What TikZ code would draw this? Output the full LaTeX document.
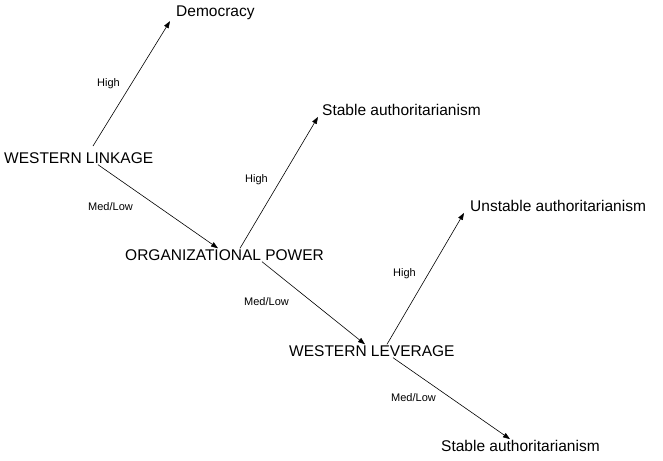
\documentclass[tikz,border=0pt]{standalone}
\usepackage{fontspec}
\setmainfont{Liberation Sans}
\usetikzlibrary{arrows.meta,positioning}
\begin{document}
\begin{tikzpicture}[x=1pt,y=-1pt,
  lvl/.style={font=\fontsize{15.5}{17}\selectfont, inner sep=1pt, anchor=west},
  lab/.style={font=\fontsize{11}{12}\selectfont, inner sep=0pt, anchor=west},
  arr/.style={-{Triangle[length=7pt,width=5pt]}, line width=0.6pt}]
\useasboundingbox (0,0) rectangle (663,460);
% Nodes
\node[lvl] (demo) at (175,13) {Democracy};
\node[lvl] (link) at (3,158) {WESTERN LINKAGE};
\node[lvl] (sa1)  at (321,110) {Stable authoritarianism};
\node[lvl] (org)  at (124,255) {ORGANIZATIONAL POWER};
\node[lvl] (ua)   at (469,206) {Unstable authoritarianism};
\node[lvl] (lev)  at (288,351) {WESTERN LEVERAGE};
\node[lvl] (sa2)  at (440,446) {Stable authoritarianism};
% Arrows
\draw[arr] (93,146) -- (demo.south west -| 170,0);
\draw[arr] (link.south -| 98,0) -- (org.north -| 218,0);
\draw[arr] (org.north -| 240,0) -- (sa1.south west -| 318,0);
\draw[arr] (org.south -| 262,0) -- (lev.north -| 365,0);
\draw[arr] (lev.north -| 387,0) -- (ua.south west -| 464,0);
\draw[arr] (lev.south -| 393,0) -- (sa2.north -| 510,0);
% Labels
\node[lab] at (97,84) {High};
\node[lab] at (88,207) {Med/Low};
\node[lab] at (245,180) {High};
\node[lab] at (244,302) {Med/Low};
\node[lab] at (393,274) {High};
\node[lab] at (391,398) {Med/Low};
\end{tikzpicture}
\end{document}
